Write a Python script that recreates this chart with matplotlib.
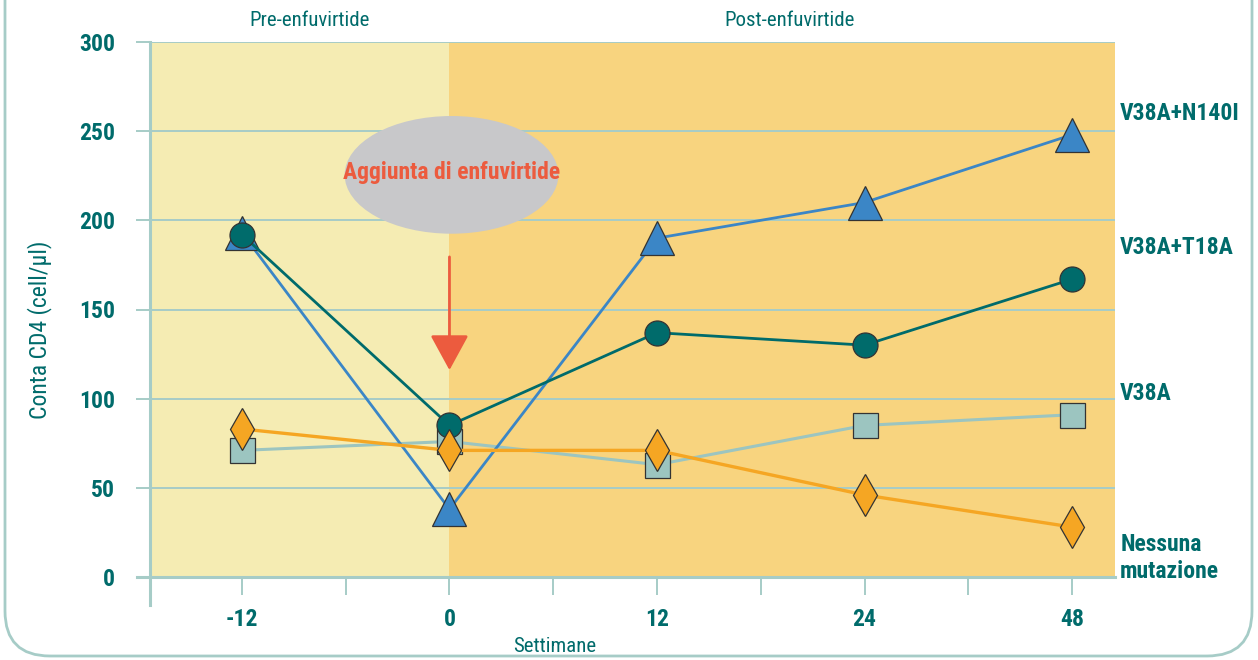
import matplotlib
matplotlib.use("Agg")
import matplotlib.pyplot as plt
from matplotlib import font_manager
from matplotlib.patches import FancyBboxPatch, Ellipse, Rectangle

# condensed sans for all the lettering
installed = {f.name for f in font_manager.fontManager.ttflist}
FONT = next((n for n in ["Liberation Sans Narrow", "Roboto Condensed", "Fira Sans Condensed",
                         "Barlow Semi Condensed", "Archivo Narrow"] if n in installed),
            "Liberation Sans")
plt.rcParams["font.family"] = [FONT, "DejaVu Sans"]

weeks = ["-12", "0", "12", "24", "48"]
v38a_n140i = [193, 38, 190, 210, 248]
v38a_t18a = [192, 85, 137, 130, 167]
v38a = [71, 76, 63, 85, 91]
nessuna = [83, 71, 71, 46, 28]

TEAL = "#006B6B"
GRID = "#A6CCC7"
EDGE = "#333333"

fig = plt.figure(figsize=(12.58, 6.6), dpi=100)

# outer rounded frame, drawn in pixel units
bg = fig.add_axes([0, 0, 1, 1], zorder=0)
bg.set_xlim(0, 1258)
bg.set_ylim(660, 0)
bg.axis("off")
bg.add_patch(FancyBboxPatch((5, -100), 1247, 756, boxstyle="round,pad=0,rounding_size=45",
                            fc="none", ec=GRID, lw=2))

ax = fig.add_axes([150 / 1258, 1 - 577 / 660, 965 / 1258, 535 / 660], zorder=1)
x = list(range(len(weeks)))
ax.set_xlim(-0.443, 4.207)
ax.set_ylim(0, 300)

# shaded periods
ax.add_patch(Rectangle((-0.443, 0), 1.443, 300, fc="#F5ECB3", ec="none", zorder=0))
ax.add_patch(Rectangle((1, 0), 3.207, 300, fc="#F8D47F", ec="none", zorder=0))

for s in ax.spines.values():
    s.set_visible(False)
ax.set_facecolor("none")

ax.set_yticks(range(0, 301, 50))
ax.yaxis.grid(True, color=GRID, lw=1.4, zorder=1)
ax.tick_params(axis="y", length=10, width=1.4, color=GRID, pad=15,
               labelsize=17, labelcolor=TEAL)
for t in ax.get_yticklabels():
    t.set_fontweight("bold")

ax.set_xticks(x)
ax.set_xticklabels(weeks, fontweight="bold")
ax.set_xticks([0.5, 1.5, 2.5, 3.5], minor=True)
ax.tick_params(axis="x", which="both", length=13, width=1.4, color=GRID, pad=9,
               labelsize=17, labelcolor=TEAL)

# axis lines
ax.plot([-0.0135, 1], [0, 0], transform=ax.transAxes, color=GRID, lw=2.2, clip_on=False, zorder=2)
ax.plot([0, 0], [-0.052, 1], transform=ax.transAxes, color=GRID, lw=2.2, clip_on=False, zorder=2)

# annotation bubble and arrow
ax.add_patch(Ellipse((1.01, 225.5), 1.03, 66, fc="#C8C8CA", ec="none", zorder=2))
ax.text(1.01, 227, "Aggiunta di enfuvirtide", ha="center", va="center", color="#EC5B3E",
        fontsize=17, fontweight="bold", zorder=3)
ax.annotate("", xy=(1.0, 116), xytext=(1.0, 179.5),
            arrowprops=dict(arrowstyle="-|>,head_length=1.1,head_width=0.6", mutation_scale=20,
                            color="#EC5B3E", lw=2, shrinkA=0, shrinkB=0), zorder=3)

# series
ax.plot(x, v38a, color="#9CC5C0", lw=2.2, marker="s", ms=18, mfc="#9CC5C0",
        mec=EDGE, mew=0.9, zorder=4)
ax.plot(x, v38a_n140i, color="#3B86C6", lw=2, marker="^", ms=24, mfc="#3B86C6",
        mec=EDGE, mew=0.9, zorder=5)
ax.plot(x, v38a_t18a, color=TEAL, lw=2, marker="o", ms=18, mfc=TEAL,
        mec=EDGE, mew=0.9, zorder=6)
ax.plot(x, nessuna, color="#F5A623", lw=2.4, marker="d", ms=21, mfc="#F5A623",
        mec=EDGE, mew=0.9, zorder=7)

# series names at the right
lab = dict(transform=ax.transData, color=TEAL, fontsize=17, fontweight="bold",
           ha="left", va="center", clip_on=False)
ax.text(4.232, 260, "V38A+N140I", **lab)
ax.text(4.232, 185, "V38A+T18A", **lab)
ax.text(4.232, 103, "V38A", **lab)
ax.text(4.232, 10.5, "Nessuna\nmutazione", linespacing=1.2, **lab)

# period headings
fig.text(310 / 1258, 1 - 21 / 660, "Pre-enfuvirtide", ha="center", va="center",
         color=TEAL, fontsize=15)
fig.text(790 / 1258, 1 - 21 / 660, "Post-enfuvirtide", ha="center", va="center",
         color=TEAL, fontsize=15)

fig.text(40 / 1258, 1 - 330 / 660, "Conta CD4 (cell/µl)", rotation=90, ha="center",
         va="center", color=TEAL, fontsize=17)
fig.text(555 / 1258, 1 - 647 / 660, "Settimane", ha="center", va="center",
         color=TEAL, fontsize=15)

fig.savefig("out.png", dpi=100)
